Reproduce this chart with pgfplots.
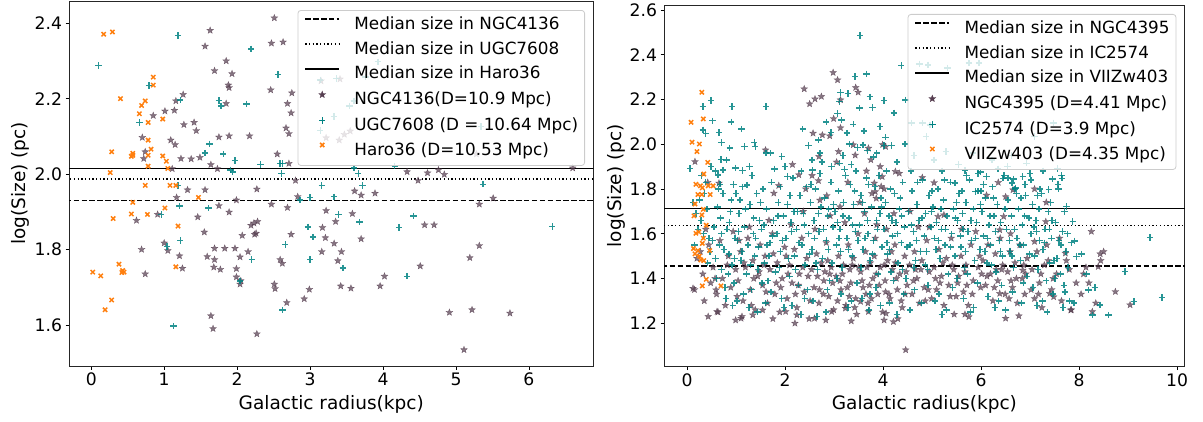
\documentclass[border=0pt]{standalone}
\usepackage{pgfplots}
\pgfplotsset{compat=1.18}
\usepackage{fontspec}
\setmainfont{DejaVu Sans}
\definecolor{stc}{RGB}{86,62,80}
\definecolor{tlc}{RGB}{0,130,130}
\definecolor{orc}{RGB}{255,127,14}
\pgfdeclareplotmark{fstar}{%
  \pgfpathmoveto{\pgfpointpolar{90}{\pgfplotmarksize}}%
  \pgfpathlineto{\pgfpointpolar{126}{0.42\pgfplotmarksize}}%
  \pgfpathlineto{\pgfpointpolar{162}{\pgfplotmarksize}}%
  \pgfpathlineto{\pgfpointpolar{198}{0.42\pgfplotmarksize}}%
  \pgfpathlineto{\pgfpointpolar{234}{\pgfplotmarksize}}%
  \pgfpathlineto{\pgfpointpolar{270}{0.42\pgfplotmarksize}}%
  \pgfpathlineto{\pgfpointpolar{306}{\pgfplotmarksize}}%
  \pgfpathlineto{\pgfpointpolar{342}{0.42\pgfplotmarksize}}%
  \pgfpathlineto{\pgfpointpolar{18}{\pgfplotmarksize}}%
  \pgfpathlineto{\pgfpointpolar{54}{0.42\pgfplotmarksize}}%
  \pgfpathclose\pgfusepathqfillstroke}
\pgfplotsset{
  lineleg/.style={legend image code/.code={\draw[sharp corners,##1] (0pt,5.8pt) -- (34pt,5.8pt);}},
  markleg/.style={legend image code/.code={\path[draw=none,fill=none] (0pt,5.8pt) -- (34pt,5.8pt); \draw[sharp corners,##1,/tikz/every mark/.append style={opacity=1, fill opacity=1}] plot coordinates {(17pt,5.8pt)};}},
  stars/.style={only marks, mark=fstar, mark size=3.6pt, mark options={fill=stc, draw=stc, line width=0.3pt, opacity=0.72}, markleg},
  teals/.style={only marks, mark=+, mark size=3.2pt, mark options={draw=tlc, line width=1.45pt, opacity=0.85}, markleg},
  oranges/.style={only marks, mark=x, mark size=3pt, mark options={draw=orc, line width=1.5pt}, markleg},
  med1/.style={black, line width=1.7pt, dash pattern=on 5.5pt off 2.4pt},
  med2/.style={black, line width=1.3pt, dash pattern=on 1.3pt off 2.4pt},
  med3/.style={black, line width=1.8pt},
  myax/.style={
    scale only axis, anchor=south west,
    axis line style={black!85, line width=0.8pt},
    tick align=outside, major tick length=3.5pt,
    xtick pos=bottom, ytick pos=left,
    every tick/.style={black, line width=0.8pt},
    tick label style={font=\fontsize{17.2}{20}\selectfont},
    /pgf/number format/assume math mode=true,
    yticklabel style={/pgf/number format/.cd, fixed, fixed zerofill, precision=1},
    xticklabel style={/pgf/number format/.cd, fixed, precision=0},
    label style={font=\fontsize{18.5}{22}\selectfont},
    legend cell align=left,
    legend style={at={(1,1)}, anchor=north east, xshift=-8.4pt, yshift=-9pt,
      draw=black!20, line width=0.8pt, fill=white, fill opacity=0.8, text opacity=1,
      draw opacity=1, rounded corners=3pt, inner xsep=6.4pt, inner ysep=6.6pt,
      row sep=8.5pt, column sep=14.3pt, font=\fontsize{16.8}{20}\selectfont,
      nodes={inner sep=0pt, text height=12.5pt, text depth=3.7pt, anchor=west}},
  }
}
\begin{document}
\begin{tikzpicture}
\useasboundingbox (0,0) rectangle (1203pt,421pt);
%%%%%%%%%%%%%%%%%%%%%%%%%% LEFT
\begin{axis}[myax, at={(69pt,55pt)}, width=524.4pt, height=365pt,
  xmin=-0.305, xmax=6.884, ymin=1.491, ymax=2.459,
  xtick={0,1,2,3,4,5,6}, ytick={1.6,1.8,2.0,2.2,2.4},
  xlabel={Galactic radius(kpc)}, ylabel={log(Size) (pc)},
  xlabel style={at={(axis description cs:0.5,-0.1205)}, anchor=base},
  ylabel style={at={(axis description cs:-0.083,0.5)}, anchor=base, rotate=0}]
\addlegendimage{lineleg, med1}\addlegendentry{Median size in NGC4136}
\addlegendimage{lineleg, med2}\addlegendentry{Median size in UGC7608}
\addlegendimage{lineleg, med3}\addlegendentry{Median size in Haro36}
\addplot[stars] coordinates {
(2.51,2.414)(1.63,2.381)(1.56,2.339)(2.47,2.347)(2.63,2.350)(1.85,2.300)(1.69,2.274)(1.93,2.266)
(1.88,2.236)(1.89,2.229)(2.46,2.223)(1.85,2.187)(2.69,2.187)(2.75,2.215)(1.26,2.211)(1.16,2.194)
(2.74,2.162)(1.01,2.167)(1.14,2.169)(0.85,2.155)(1.41,2.137)(1.27,2.131)(1.44,2.115)(2.67,2.122)
(2.71,2.107)(1.75,2.098)(1.89,2.101)(2.17,2.101)(0.70,2.097)(1.09,2.090)(1.15,2.078)(0.74,2.059)
(0.72,2.041)(1.23,2.041)(1.37,2.040)(1.49,2.044)(1.64,2.025)(1.73,2.014)(2.55,2.053)(2.71,2.028)
(1.11,2.014)(2.80,1.983)(1.32,1.958)(1.56,1.958)(2.27,1.960)(1.75,1.916)(1.89,1.899)(1.99,1.931)
(2.47,1.920)(2.69,1.911)(2.83,1.940)(3.22,1.903)(0.62,1.877)(0.91,1.893)(1.17,1.938)(1.46,1.886)
(2.19,1.864)(2.23,1.870)(2.28,1.874)(2.26,1.843)(2.24,1.840)(2.07,1.837)(1.55,1.846)(2.74,1.840)
(3.17,1.858)(3.21,1.831)(3.35,1.874)(3.58,1.895)(3.70,1.828)(3.33,1.816)(3.16,1.794)(3.43,1.794)
(3.70,1.944)(3.61,1.955)(3.89,1.949)(4.33,2.006)(4.48,1.983)(4.61,2.003)(4.76,2.011)(4.84,1.999)
(4.70,1.865)(4.57,1.865)(5.32,1.920)(5.51,1.936)(6.60,2.016)(5.32,1.810)(5.19,1.778)(4.51,1.756)
(4.02,1.729)(3.96,1.703)(4.91,1.633)(5.22,1.640)(5.74,1.631)(5.11,1.534)(3.56,1.697)(3.42,1.703)
(3.38,1.770)(2.99,1.694)(2.92,1.669)(2.68,1.659)(2.51,1.708)(2.52,1.696)(2.27,1.576)(1.67,1.590)
(1.64,1.624)(0.69,1.800)(0.74,1.735)(1.00,1.817)(1.05,1.797)(1.21,1.783)(1.25,1.750)(1.59,1.781)
(1.69,1.803)(1.83,1.803)(1.97,1.803)(1.69,1.773)(1.68,1.753)(1.77,1.747)(2.15,1.794)(2.04,1.780)
(1.99,1.749)(1.99,1.727)(2.04,1.708)(2.05,1.717)(2.59,1.773)(2.62,1.763)(3.15,2.247)(3.41,2.252)
(3.22,2.096)(3.47,2.105)(3.55,2.114)(3.40,2.090)(5.28,2.053)
};
\addlegendentry{NGC4136(D=10.9 Mpc)}
\addplot[teals] coordinates {
(0.10,2.288)(1.19,2.367)(2.19,2.332)(2.56,2.264)(0.79,2.235)(1.22,2.197)(1.75,2.195)(1.78,2.181)
(2.13,2.186)(0.66,2.137)(1.62,2.080)(1.56,2.056)(1.81,2.053)(1.97,2.036)(1.91,2.011)(1.94,2.005)
(2.32,2.025)(2.59,2.028)(2.62,2.028)(2.61,2.001)(1.19,1.970)(1.21,1.915)(1.61,1.910)(0.96,1.893)
(3.16,1.970)(3.00,1.938)(3.33,1.940)(2.86,1.931)(3.66,2.001)(3.60,2.016)(3.72,1.970)(4.16,2.021)
(5.37,1.973)(3.39,1.893)(3.68,1.873)(2.97,1.860)(3.04,1.833)(4.22,1.858)(4.42,1.889)(2.66,1.813)
(1.22,1.824)(1.04,1.808)(2.20,1.773)(3.00,1.773)(3.45,1.751)(4.33,1.729)(2.04,1.717)(2.62,1.639)
(1.13,1.597)(6.32,1.861)(3.14,2.250)(3.36,2.254)(3.54,2.181)(3.60,2.194)(3.33,2.153)(3.93,2.298)
(3.76,2.258)(5.34,2.126)(3.14,2.116)
};
\addlegendentry{UGC7608 (D = 10.64 Mpc)}
\addplot[oranges] coordinates {
(0.17,2.371)(0.29,2.377)(0.40,2.200)(0.85,2.257)(0.85,2.236)(0.74,2.194)(0.69,2.182)(0.66,2.160)
(0.78,2.137)(0.98,2.146)(0.78,2.090)(0.82,2.066)(0.78,2.050)(0.57,2.055)(0.55,2.047)(0.57,2.050)
(0.28,2.059)(0.98,2.048)(1.03,2.034)(1.05,2.015)(0.78,2.021)(0.26,2.004)(0.74,1.970)(1.08,1.970)
(1.16,1.970)(0.57,1.925)(1.47,1.938)(0.55,1.894)(0.77,1.893)(1.01,1.910)(0.30,1.882)(1.19,1.862)
(0.38,1.761)(0.43,1.744)(0.45,1.740)(0.42,1.739)(1.16,1.754)(0.02,1.740)(0.13,1.730)(0.28,1.666)
(0.19,1.640)
};
\addlegendentry{Haro36 (D=10.53 Mpc)}
\addplot[med1, forget plot] coordinates {(-1,1.930) (8,1.930)};
\addplot[med2, forget plot] coordinates {(-1,1.987) (8,1.987)};
\addplot[med3, forget plot] coordinates {(-1,2.015) (8,2.015)};
\end{axis}
%%%%%%%%%%%%%%%%%%%%%%%%%% RIGHT
\begin{axis}[myax, at={(664pt,54.3pt)}, width=520.8pt, height=361.7pt,
  xmin=-0.472, xmax=10.157, ymin=1.006, ymax=2.622,
  xtick={0,2,4,6,8,10}, ytick={1.2,1.4,1.6,1.8,2.0,2.2,2.4,2.6},
  xlabel={Galactic radius(kpc)}, ylabel={log(Size) (pc)},
  xlabel style={at={(axis description cs:0.5,-0.1197)}, anchor=base},
  ylabel style={at={(axis description cs:-0.081,0.5)}, anchor=base, rotate=0}]
\addlegendimage{lineleg, med1}\addlegendentry{Median size in NGC4395}
\addlegendimage{lineleg, med2}\addlegendentry{Median size in IC2574}
\addlegendimage{lineleg, med3}\addlegendentry{Median size in VIIZw403}
\addplot[stars] coordinates {
(2.98,2.32)(3.07,2.287)(2.39,2.247)(2.50,2.18)(2.61,2.202)(2.74,2.213)(3.13,2.198)(3.44,2.253)
(3.49,2.232)(2.99,2.114)(3.13,2.073)(2.76,2.041)(2.91,2.037)(2.57,2.049)(2.69,1.945)(3.09,1.967)
(3.39,1.997)(3.43,1.951)(3.70,1.982)(3.99,1.998)(4.05,1.989)(3.75,1.93)(3.94,1.90)(4.25,1.878)
(4.33,1.87)(2.15,1.909)(2.68,1.837)(2.28,1.863)(4.80,1.851)(5.04,1.828)(1.60,1.974)(0.16,1.922)
(0.42,1.829)(0.65,1.826)(1.77,1.781)(1.87,1.815)(3.82,1.826)(3.84,1.788)(3.96,1.811)(3.86,1.758)
(3.98,1.855)(6.35,1.829)(7.09,1.80)(6.11,1.772)(6.50,1.765)(7.33,1.74)
(9.04,1.282)(8.74,1.341)(8.50,1.52)(8.43,1.51)(8.25,1.61)(8.39,1.453)(8.27,1.252)(7.83,1.259)
(7.40,1.333)(7.48,1.318)(8.09,1.42)(7.72,1.513)(7.32,1.654)(7.09,1.565)(6.85,1.437)(6.77,1.233)
(6.50,1.222)(6.38,1.333)(6.65,1.796)(6.46,1.677)(6.38,1.617)(5.75,1.229)(5.67,1.24)(5.24,1.684)
(5.12,1.677)(4.94,1.629)(4.46,1.081)
(0.43,1.230)(0.61,1.252)(0.99,1.214)(1.10,1.222)(1.34,1.237)(1.54,1.259)(2.01,1.252)(2.24,1.237)
(2.60,1.222)(2.83,1.214)(2.95,1.252)(3.23,1.267)(3.70,1.252)(4.02,1.214)(4.21,1.207)(4.06,1.244)
(3.54,1.297)(0.12,1.356)(0.59,1.349)
(0.20,1.49)(0.32,1.42)(0.44,1.55)(0.15,1.35)(0.38,1.62)(0.48,1.38)(0.27,1.52)
(0.53,1.45)(0.60,1.33)(0.67,1.57)(0.72,1.40)(0.78,1.28)(0.84,1.50)(0.89,1.36)(0.94,1.61)(0.99,1.44)(0.63,1.25)
(1.04,1.39)(1.09,1.52)(1.14,1.30)(1.19,1.45)(1.24,1.58)(1.29,1.35)(1.34,1.48)(1.39,1.26)(1.44,1.41)(1.49,1.55)(1.12,1.23)(1.27,1.63)
(1.54,1.37)(1.59,1.50)(1.64,1.29)(1.69,1.44)(1.74,1.60)(1.79,1.33)(1.84,1.47)(1.89,1.25)(1.94,1.40)(1.99,1.54)(1.67,1.66)
(2.04,1.31)(2.09,1.46)(2.14,1.38)(2.19,1.53)(2.24,1.27)(2.29,1.42)(2.34,1.58)(2.39,1.34)(2.44,1.49)(2.49,1.22)(2.12,1.64)(2.37,1.70)
(2.54,1.44)(2.59,1.36)(2.64,1.51)(2.69,1.29)(2.74,1.47)(2.79,1.39)(2.84,1.56)(2.89,1.32)(2.94,1.45)(2.99,1.26)(2.61,1.62)(2.81,1.43)(2.71,1.75)(2.92,1.68)
(3.04,1.41)(3.09,1.50)(3.14,1.35)(3.19,1.46)(3.24,1.28)(3.29,1.55)(3.34,1.38)(3.39,1.49)(3.44,1.31)(3.49,1.60)(3.12,1.72)(3.32,1.44)(3.22,1.65)(3.46,1.24)
(3.54,1.43)(3.59,1.36)(3.64,1.52)(3.69,1.29)(3.74,1.47)(3.79,1.40)(3.84,1.58)(3.89,1.33)(3.94,1.45)(3.99,1.25)(3.62,1.69)(3.77,1.78)(3.87,1.64)(3.72,1.37)
(4.04,1.39)(4.09,1.48)(4.14,1.31)(4.19,1.44)(4.24,1.55)(4.29,1.35)(4.34,1.42)(4.39,1.27)(4.44,1.50)(4.49,1.37)(4.07,1.62)(4.22,1.69)
(4.54,1.46)(4.59,1.33)(4.64,1.52)(4.69,1.40)(4.74,1.29)(4.79,1.48)(4.84,1.36)(4.89,1.57)(4.94,1.43)(4.99,1.31)(4.72,1.63)
(5.04,1.45)(5.09,1.35)(5.14,1.53)(5.19,1.41)(5.24,1.28)(5.29,1.49)(5.34,1.37)(5.39,1.58)(5.44,1.44)(5.49,1.32)
(5.54,1.41)(5.59,1.50)(5.64,1.34)(5.69,1.46)(5.74,1.28)(5.79,1.55)(5.84,1.39)(5.89,1.61)(5.94,1.45)(5.99,1.36)
(6.04,1.48)(6.09,1.37)(6.14,1.55)(6.19,1.42)(6.24,1.30)(6.29,1.51)(6.34,1.39)(6.39,1.58)(6.44,1.46)(6.49,1.33)
(6.54,1.43)(6.59,1.52)(6.64,1.36)(6.69,1.47)(6.74,1.29)(6.79,1.55)(6.84,1.40)(6.89,1.33)(6.94,1.49)
(7.04,1.44)(7.09,1.31)(7.14,1.52)(7.19,1.38)(7.24,1.27)(7.29,1.46)(7.34,1.55)(7.44,1.35)
(7.54,1.42)(7.64,1.30)(7.74,1.48)(7.84,1.26)(7.94,1.38)(8.04,1.33)(8.14,1.45)(8.34,1.29)(8.44,1.48)
(1.02,1.32)(1.16,1.47)(1.31,1.28)(1.47,1.43)(1.61,1.34)(1.76,1.51)(1.91,1.36)(2.06,1.42)(2.21,1.33)
(2.36,1.45)(2.51,1.30)(2.66,1.41)(2.78,1.33)(2.87,1.48)(2.97,1.38)(3.07,1.30)(3.17,1.42)(3.27,1.36)
(3.37,1.46)(3.42,1.27)(3.57,1.39)(3.67,1.45)(3.76,1.31)(3.82,1.50)(3.92,1.37)(4.02,1.46)(4.12,1.33)
(4.17,1.52)(4.27,1.40)(4.37,1.30)(4.47,1.43)(4.62,1.39)(4.77,1.44)(4.92,1.35)(5.07,1.40)(5.22,1.47)
(5.37,1.32)(5.52,1.38)(5.67,1.43)(5.82,1.33)(5.97,1.50)(6.12,1.41)(6.27,1.36)(6.42,1.44)(6.57,1.31)
(6.72,1.40)(6.87,1.46)(7.02,1.35)(7.22,1.42)(7.37,1.48)(0.57,1.40)(0.82,1.46)(0.35,1.30)(2.42,1.80)
(2.55,1.86)(3.05,1.92)(3.28,1.83)(3.66,1.88)(4.02,1.80)(2.85,1.77)(3.52,1.74)(4.55,1.70)(5.60,1.62)
(6.60,1.60)(7.60,1.58)(2.20,1.20)(3.35,1.21)(4.30,1.22)(5.45,1.24)(1.75,1.22)
(1.06,1.57)(1.36,1.40)(1.57,1.46)(1.82,1.38)(2.02,1.50)(2.27,1.37)(2.47,1.41)(2.70,1.35)(2.91,1.42)
(3.12,1.39)(3.31,1.32)(3.50,1.45)(3.65,1.33)(3.86,1.42)(4.05,1.34)(4.25,1.47)(4.45,1.33)(4.66,1.44)
(4.86,1.30)(5.16,1.38)(5.41,1.46)(5.71,1.37)(6.01,1.42)(6.31,1.44)(6.61,1.39)(6.91,1.42)(7.17,1.33)
(7.47,1.40)(7.80,1.44)(8.20,1.38)
};
\addlegendentry{NGC4395 (D=4.41 Mpc)}
\addplot[teals] coordinates {
(0.32,2.168)(0.49,2.195)(0.32,2.064)(0.38,2.047)(0.52,2.105)(0.65,2.052)(0.70,2.007)(0.92,2.168)
(0.90,2.10)(1.11,2.067)(1.37,2.007)(1.39,1.989)(1.61,1.96)(1.61,2.168)(0.69,1.931)(0.73,1.885)
(0.87,1.983)(1.17,1.99)(0.06,1.892)(0.29,1.86)(0.63,1.862)(0.67,1.821)(0.99,1.894)(1.13,1.882)(1.22,1.817)
(3.53,2.485)(3.43,2.302)(3.66,2.314)(4.37,2.351)(4.46,2.198)(3.13,2.231)(3.28,2.226)(3.11,2.19)
(3.52,2.161)(3.78,2.164)(3.73,2.212)(4.02,2.196)(4.22,2.14)(3.94,2.079)(4.05,2.031)(4.17,1.994)
(3.39,2.089)(3.15,2.108)(3.07,2.138)(2.94,2.052)(2.68,2.019)(2.48,1.995)(2.36,2.067)(2.71,1.96)
(3.31,2.001)(3.48,1.986)(3.59,1.997)(3.68,1.971)(3.80,1.942)(4.02,1.995)(1.93,1.945)(2.05,1.855)
(2.56,1.885)(3.21,1.888)(3.11,1.915)
(4.58,2.094)(4.80,2.094)(4.96,2.086)(4.74,2.359)(4.92,2.354)(5.31,2.34)(5.75,2.362)(5.96,2.362)
(4.88,2.034)(5.04,1.93)(5.28,1.967)(6.22,1.93)(6.93,1.915)(7.48,2.094)(7.09,2.034)(7.56,1.892)
(7.65,1.848)(7.00,1.87)(6.54,1.90)
(5.67,1.882)(5.94,1.87)(5.99,1.876)(6.11,1.855)(6.45,1.848)(6.66,1.845)(6.85,1.855)(7.02,1.84)
(7.20,1.80)(7.38,1.797)(7.46,1.845)(7.57,1.82)(7.64,1.86)(5.47,1.826)(5.61,1.79)(5.88,1.788)
(6.00,1.79)(6.63,1.826)(6.70,1.805)(6.72,1.78)(6.81,1.76)
(9.45,1.584)(9.69,1.315)(9.12,1.297)(8.94,1.431)(8.60,1.237)(8.27,1.237)(8.43,1.282)(8.19,1.349)
(7.95,1.498)(7.91,1.568)(7.87,1.654)(7.74,1.721)
(0.12,1.74)(0.18,1.69)(0.22,1.62)(0.35,1.78)(0.41,1.71)(0.45,1.58)(0.28,1.66)(0.38,1.83)(0.47,1.52)(0.15,1.55)(0.42,1.47)(0.33,1.60)(0.49,1.90)(0.25,1.75)
(0.55,1.63)(0.58,1.49)(0.62,1.72)(0.66,1.55)(0.70,1.44)(0.73,1.78)(0.77,1.36)(0.81,1.62)(0.85,1.51)(0.88,1.70)(0.92,1.46)(0.95,1.82)(0.98,1.58)(0.60,1.40)(0.79,1.31)(0.90,1.75)(0.68,1.67)(0.96,1.38)
(1.03,1.57)(1.06,1.69)(1.10,1.48)(1.13,1.81)(1.17,1.63)(1.21,1.42)(1.24,1.55)(1.28,1.73)(1.31,1.35)(1.35,1.60)(1.38,1.50)(1.42,1.78)(1.45,1.44)(1.48,1.66)(1.15,1.33)(1.26,1.27)(1.40,1.58)(1.08,1.75)
(1.52,1.62)(1.55,1.80)(1.58,1.47)(1.62,1.71)(1.65,1.39)(1.69,1.56)(1.72,1.83)(1.76,1.66)(1.80,1.43)(1.83,1.60)(1.86,1.74)(1.90,1.52)(1.93,1.31)(1.97,1.68)(1.60,1.29)(1.78,1.89)(1.88,1.45)
(2.02,1.58)(2.05,1.73)(2.09,1.41)(2.12,1.65)(2.16,1.85)(2.19,1.50)(2.23,1.62)(2.27,1.37)(2.30,1.77)(2.34,1.55)(2.37,1.69)(2.41,1.46)(2.44,1.81)(2.48,1.60)(2.14,1.28)(2.32,1.24)(2.46,1.35)(2.25,1.70)
(2.52,1.74)(2.55,1.53)(2.59,1.66)(2.62,1.80)(2.66,1.44)(2.69,1.61)(2.73,1.72)(2.76,1.49)(2.80,1.76)(2.84,1.57)(2.87,1.68)(2.91,1.39)(2.94,1.83)(2.98,1.63)(2.57,1.30)(2.83,1.25)(2.96,1.47)(2.71,1.87)(2.89,1.71)
(3.02,1.70)(3.05,1.55)(3.09,1.79)(3.12,1.62)(3.16,1.45)(3.19,1.74)(3.23,1.86)(3.26,1.58)(3.30,1.67)(3.33,1.82)(3.37,1.50)(3.40,1.73)(3.44,1.61)(3.47,1.38)(3.14,1.33)(3.28,1.27)(3.35,1.91)(3.42,1.79)(3.07,1.65)
(3.52,1.64)(3.55,1.77)(3.59,1.53)(3.62,1.70)(3.66,1.85)(3.69,1.60)(3.73,1.48)(3.76,1.72)(3.80,1.57)(3.83,1.81)(3.87,1.66)(3.90,1.42)(3.94,1.69)(3.98,1.54)(3.57,1.31)(3.71,1.26)(3.85,1.36)(3.96,1.76)
(4.02,1.62)(4.05,1.74)(4.09,1.51)(4.12,1.68)(4.16,1.43)(4.19,1.59)(4.23,1.78)(4.26,1.65)(4.30,1.47)(4.33,1.71)(4.37,1.56)(4.40,1.83)(4.44,1.63)(4.47,1.40)(4.13,1.29)(4.28,1.24)(4.42,1.33)(4.07,1.88)
(4.52,1.70)(4.55,1.55)(4.59,1.79)(4.62,1.61)(4.66,1.48)(4.69,1.73)(4.73,1.66)(4.76,1.52)(4.80,1.84)(4.84,1.59)(4.87,1.69)(4.91,1.44)(4.94,1.77)(4.98,1.63)(4.64,1.35)(4.78,1.29)(4.92,1.37)(4.57,1.88)
(5.02,1.72)(5.05,1.58)(5.09,1.65)(5.12,1.80)(5.16,1.49)(5.19,1.62)(5.23,1.75)(5.26,1.55)(5.30,1.68)(5.33,1.42)(5.37,1.83)(5.40,1.60)(5.44,1.71)(5.47,1.50)(5.14,1.33)(5.29,1.26)(5.42,1.36)
(5.52,1.66)(5.55,1.78)(5.59,1.54)(5.62,1.69)(5.66,1.45)(5.69,1.74)(5.73,1.61)(5.76,1.84)(5.80,1.57)(5.84,1.71)(5.87,1.48)(5.91,1.65)(5.94,1.79)(5.98,1.53)(5.64,1.31)(5.78,1.25)(5.93,1.38)
(6.02,1.70)(6.05,1.59)(6.09,1.76)(6.12,1.47)(6.16,1.64)(6.19,1.55)(6.23,1.81)(6.26,1.68)(6.30,1.43)(6.33,1.73)(6.37,1.57)(6.40,1.65)(6.44,1.50)(6.47,1.86)(6.14,1.32)(6.28,1.27)(6.42,1.37)
(6.52,1.62)(6.55,1.75)(6.59,1.52)(6.62,1.68)(6.66,1.45)(6.69,1.80)(6.73,1.58)(6.76,1.71)(6.80,1.48)(6.84,1.64)(6.87,1.55)(6.91,1.77)(6.94,1.41)(6.98,1.67)(6.64,1.34)(6.82,1.29)
(7.02,1.60)(7.05,1.73)(7.09,1.50)(7.12,1.66)(7.16,1.44)(7.19,1.57)(7.23,1.78)(7.26,1.53)(7.30,1.62)(7.33,1.39)(7.37,1.70)(7.40,1.47)(7.44,1.58)(7.47,1.33)(7.14,1.28)(7.35,1.25)
(7.52,1.65)(7.55,1.49)(7.59,1.57)(7.62,1.42)(7.66,1.61)(7.69,1.37)(7.73,1.52)(7.77,1.45)(7.80,1.30)(7.84,1.56)(7.58,1.80)(7.67,1.27)
(0.52,1.57)(0.64,1.80)(0.75,1.53)(0.86,1.65)(0.97,1.49)(1.05,1.61)(1.19,1.71)(1.29,1.46)(1.36,1.67)
(1.46,1.54)(1.57,1.64)(1.67,1.50)(1.74,1.59)(1.85,1.68)(1.95,1.57)(2.07,1.49)(2.18,1.70)(2.28,1.56)
(2.39,1.64)(2.50,1.51)(2.60,1.58)(2.68,1.69)(2.78,1.62)(2.88,1.53)(2.99,1.73)(3.10,1.58)(3.18,1.68)
(3.29,1.53)(3.38,1.64)(3.49,1.57)(3.58,1.74)(3.68,1.66)(3.78,1.51)(3.88,1.62)(3.97,1.72)(4.08,1.56)
(4.18,1.66)(4.29,1.60)(4.38,1.68)(4.49,1.54)(4.58,1.64)(4.68,1.57)(4.79,1.67)(4.89,1.52)(4.99,1.70)
(5.08,1.53)(5.18,1.71)(5.27,1.62)(5.38,1.54)(5.48,1.67)(5.58,1.59)(5.68,1.52)(5.79,1.66)(5.89,1.58)
(5.99,1.73)(6.08,1.52)(6.18,1.68)(6.29,1.61)(6.39,1.52)(6.49,1.71)(6.58,1.57)(6.68,1.62)(6.79,1.55)
(6.89,1.68)(6.99,1.51)(7.08,1.63)(7.18,1.71)(7.29,1.56)(7.39,1.62)(7.49,1.48)(7.63,1.55)(7.76,1.60)
(0.84,1.42)(1.53,1.38)(2.21,1.44)(2.86,1.35)(3.55,1.45)(4.21,1.39)(4.86,1.46)(5.51,1.40)(6.21,1.46)
(6.86,1.38)(7.51,1.40)(1.02,1.30)(1.71,1.34)(2.40,1.31)(3.06,1.40)(3.73,1.33)(4.39,1.44)(5.06,1.30)
(5.72,1.42)(6.36,1.30)(7.06,1.36)(7.71,1.34)(8.05,1.51)(8.15,1.42)(8.32,1.36)
(1.32,1.86)(2.00,1.90)(2.55,1.93)(2.84,2.10)(3.26,2.05)(3.61,2.06)(3.87,1.96)(4.28,1.92)(4.45,2.00)
(4.63,1.95)(5.20,1.88)(5.54,1.91)(5.84,1.96)(6.34,1.89)(6.62,1.95)(7.26,1.88)(7.70,1.70)
(0.58,1.88)(0.80,1.93)(1.00,1.78)(1.27,1.90)(1.50,1.74)(1.70,1.96)(1.90,1.81)(2.10,1.77)(2.33,1.88)
(2.53,1.82)(2.75,1.92)(2.95,1.90)(3.18,1.95)(3.45,1.88)(3.70,1.82)(3.92,1.86)(4.15,1.80)(4.35,1.76)
(4.70,1.83)(5.00,1.79)(5.25,1.84)(5.50,1.74)(5.70,1.86)(6.05,1.82)(6.25,1.76)(6.55,1.85)(6.90,1.82)
(7.15,1.77)(7.42,1.74)
(0.70,1.60)(1.12,1.52)(1.63,1.55)(2.13,1.61)(2.63,1.47)(3.13,1.52)(3.63,1.58)(4.13,1.53)(4.63,1.45)
(5.13,1.57)(5.63,1.62)(6.13,1.58)(6.63,1.50)(7.13,1.61)(7.45,1.66)
(0.93,1.28)(1.44,1.25)(1.98,1.27)(2.65,1.23)(3.35,1.30)(3.95,1.28)(4.55,1.26)(5.20,1.24)(5.85,1.27)
(6.50,1.26)(7.25,1.30)(7.90,1.29)
};
\addlegendentry{IC2574 (D=3.9 Mpc)}
\addplot[oranges] coordinates {
(0.30,2.232)(0.08,2.098)(0.33,2.113)(0.10,2.009)(0.25,2.001)(0.20,1.967)(0.42,1.919)(0.34,1.867)
(0.18,1.821)(0.27,1.814)(0.43,1.814)(0.53,1.814)(0.31,1.805)(0.22,1.775)(0.30,1.775)(0.47,1.775)
(0.16,1.733)(0.33,1.709)(0.30,1.684)(0.14,1.680)(0.39,1.638)(0.24,1.608)(0.18,1.602)(0.33,1.580)
(0.31,1.557)(0.13,1.534)(0.16,1.510)(0.46,1.525)(0.28,1.483)(0.34,1.480)(0.39,1.396)(0.31,1.367)
(0.69,1.367)(0.25,1.500)(0.22,1.525)
};
\addlegendentry{VIIZw403 (D=4.35 Mpc)}
\addplot[med1, forget plot] coordinates {(-1,1.457) (11,1.457)};
\addplot[med2, forget plot] coordinates {(-1,1.637) (11,1.637)};
\addplot[med3, forget plot] coordinates {(-1,1.713) (11,1.713)};
\end{axis}
\end{tikzpicture}
\end{document}
